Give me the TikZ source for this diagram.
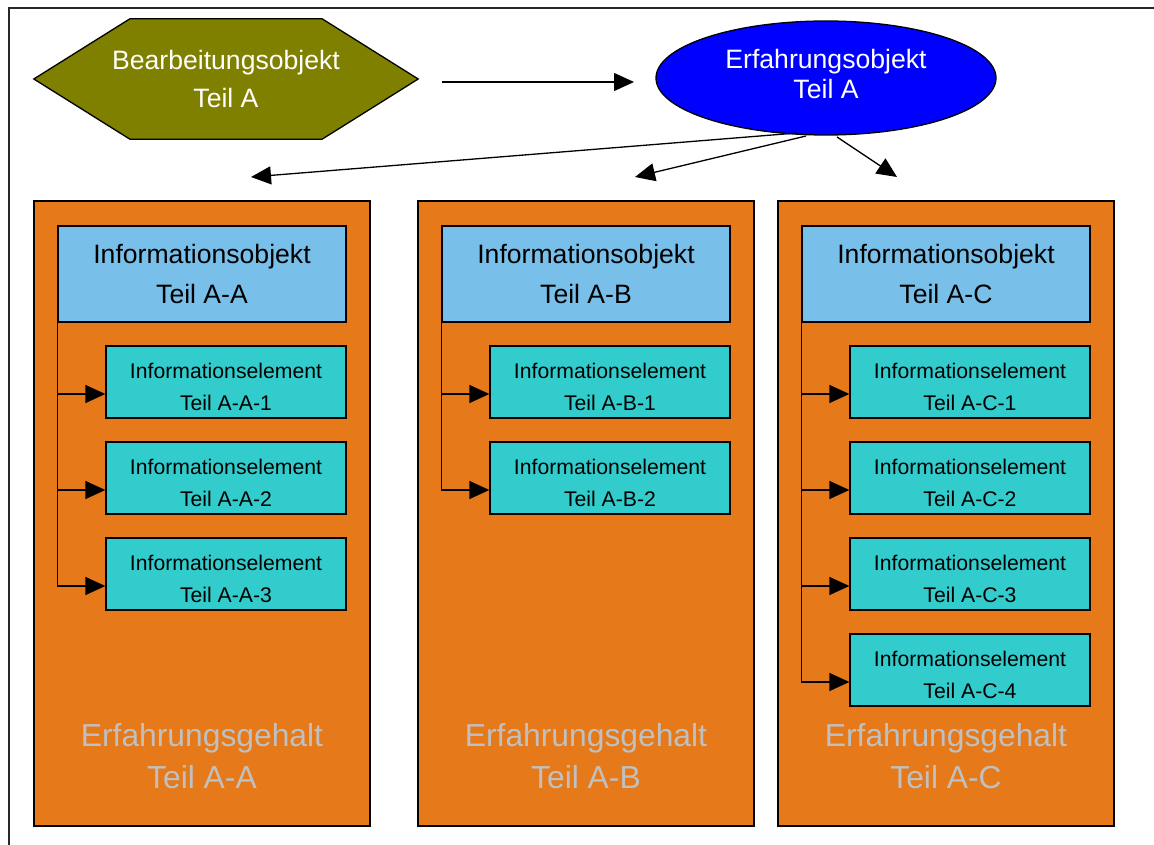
\documentclass[tikz,border=0pt]{standalone}
\usepackage{fontspec}
\setmainfont{Liberation Sans}
\usetikzlibrary{arrows.meta,calc,backgrounds,shapes.geometric}
\definecolor{hexfill}{RGB}{128,128,0}
\definecolor{ellfill}{RGB}{0,0,255}
\definecolor{colfill}{RGB}{230,121,25}
\definecolor{objfill}{RGB}{120,192,234}
\definecolor{elfill}{RGB}{51,204,204}
\definecolor{gehalt}{RGB}{192,192,192}
\definecolor{framec}{RGB}{40,40,40}
\newcommand{\eltext}[1]{\rule{0pt}{25pt}Informationselement\\Teil #1}
\begin{document}
\begin{tikzpicture}[x=1pt,y=-1pt,
  arr/.style={line width=1.3pt, -{Triangle[length=20pt,width=18pt]}},
  column/.style={draw, line width=1.6pt, fill=colfill, minimum width=336pt, minimum height=625pt, inner sep=0pt},
  objbox/.style={draw, line width=1.3pt, fill=objfill, minimum width=288pt, minimum height=96pt, align=center, font=\fontsize{26.6}{40}\selectfont, inner sep=0pt},
  elbox/.style={draw, line width=1.3pt, fill=elfill, minimum width=240pt, minimum height=72pt, align=center, font=\fontsize{21.2}{32}\selectfont, inner sep=0pt},
  gehalttext/.style={text=gehalt, align=center, font=\fontsize{31.8}{42}\selectfont},
  toptext/.style={text=white, align=center, inner sep=0pt}]
\useasboundingbox (0,0) rectangle (1154,845);
% outer frame (extends beyond the picture)
\draw[line width=1.6pt, framec] (9,860) -- (9,8) -- (1170,8);

% top objects
\node[toptext, minimum width=384pt, minimum height=120pt, font=\fontsize{26.6}{38}\selectfont] (hex) at (226,79) {Bearbeitungsobjekt\\Teil A};
\begin{scope}[on background layer]
\draw[line width=1.3pt, fill=hexfill] (hex.west) -- ($(hex.north west)!0.25!(hex.north east)$) -- ($(hex.north west)!0.75!(hex.north east)$) -- (hex.east) -- ($(hex.south west)!0.75!(hex.south east)$) -- ($(hex.south west)!0.25!(hex.south east)$) -- cycle;
\end{scope}
\node[toptext, ellipse, draw=black, line width=1.3pt, fill=ellfill, minimum width=340pt, minimum height=114pt, font=\fontsize{26.6}{30}\selectfont] (ell) at (826,78) {Erfahrungsobjekt\\Teil A\rule[-8pt]{0pt}{8pt}};

\coordinate (hs) at (442,82);
\coordinate (he) at (634,82);
\draw[arr] (hs) -- (he);

\coordinate (s1) at (797,133);
\coordinate (s2) at (806,136);
\coordinate (s3) at (837,137);
\coordinate (t1) at (251,177);
\coordinate (t2) at (635,177);
\coordinate (t3) at (897,177);
\draw[arr] (s1) -- (t1);
\draw[arr] (s2) -- (t2);
\draw[arr] (s3) -- (t3);

% columns
\node[column] (colA) at (202,513.5) {};
\node[column] (colB) at (586,513.5) {};
\node[column] (colC) at (946,513.5) {};

% information objects
\node[objbox] (objA) at (202,274) {Informationsobjekt\\Teil A-A};
\node[objbox] (objB) at (586,274) {Informationsobjekt\\Teil A-B};
\node[objbox] (objC) at (946,274) {Informationsobjekt\\Teil A-C};

% information elements
\node[elbox] (elA1) at (226,382) {\eltext{A-A-1}};
\node[elbox] (elA2) at (226,478) {\eltext{A-A-2}};
\node[elbox] (elA3) at (226,574) {\eltext{A-A-3}};
\node[elbox] (elB1) at (610,382) {\eltext{A-B-1}};
\node[elbox] (elB2) at (610,478) {\eltext{A-B-2}};
\node[elbox] (elC1) at (970,382) {\eltext{A-C-1}};
\node[elbox] (elC2) at (970,478) {\eltext{A-C-2}};
\node[elbox] (elC3) at (970,574) {\eltext{A-C-3}};
\node[elbox] (elC4) at (970,670) {\eltext{A-C-4}};

% connectors
\foreach \o/\e in {objA/elA1,objA/elA2,objA/elA3,objB/elB1,objB/elB2,objC/elC1,objC/elC2,objC/elC3,objC/elC4}
  \draw[arr] (\o.south west) |- ([yshift=-12pt]\e.west);

% content labels
\node[gehalttext] (gA) at (202,756) {Erfahrungsgehalt\\Teil A-A};
\node[gehalttext] (gB) at (586,756) {Erfahrungsgehalt\\Teil A-B};
\node[gehalttext] (gC) at (946,756) {Erfahrungsgehalt\\Teil A-C};
\end{tikzpicture}
\end{document}
